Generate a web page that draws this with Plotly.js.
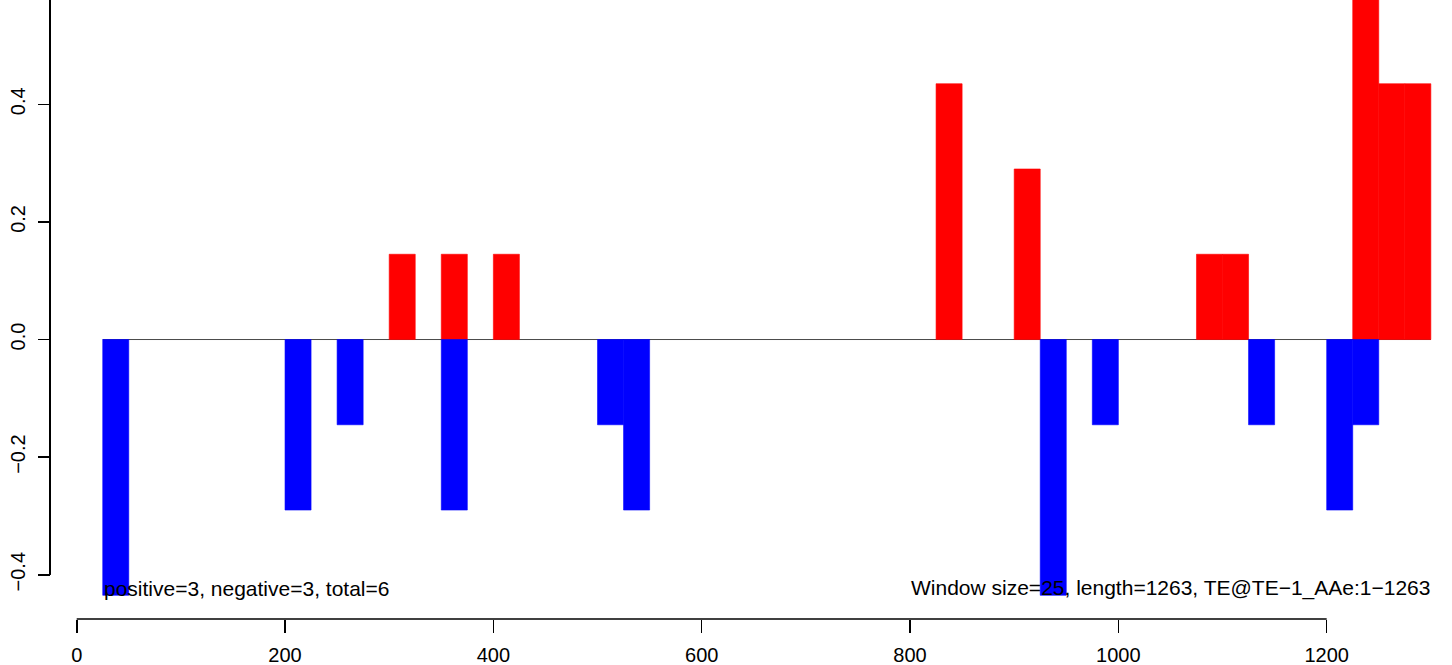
<!DOCTYPE html>
<html>
<head>
<meta charset="utf-8">
<script src="https://cdn.plot.ly/plotly-3.0.1.min.js"></script>
<style>
  html, body { margin: 0; padding: 0; background: #ffffff; }
  #chart { width: 1452px; height: 665px; }
</style>
</head>
<body>
<div id="chart"></div>
<script>
// Window start positions (bp) and scores for each 25-bp window
const windowSize = 25;
const positiveStarts = [300, 350, 400, 825, 900, 1075, 1100, 1225, 1250, 1275];
const positiveValues = [0.145, 0.145, 0.145, 0.435, 0.29, 0.145, 0.145, 0.58, 0.435, 0.435];
const negativeStarts = [25, 200, 250, 350, 500, 525, 925, 975, 1125, 1200, 1225];
const negativeValues = [-0.435, -0.29, -0.145, -0.29, -0.145, -0.29, -0.435, -0.145, -0.145, -0.29, -0.145];

// Axis ticks and visible ranges
const xTicks = [0, 200, 400, 600, 800, 1000, 1200];
const yTicks = [-0.4, -0.2, 0.0, 0.2, 0.4, 0.6];
const xRange = [-35.23, 1320.3];
const yRange = [-0.4753, 0.5774];
const yAxisX = -25.63;   // x (bp) where the R-style y axis sits

// Zero-line extent and text labels
const zeroLineFrom = 25;
const zeroLineTo = 1300;
const leftLabel = "positive=3, negative=3, total=6";
const leftLabelX = 25;
const rightLabel = "Window size=25, length=1263, TE@TE\u22121_AAe:1\u22121263";
const rightLabelX = 1300;
const labelY = -0.423;

const font = "'Liberation Sans', Arial, Helvetica, sans-serif";

const yAxisPosition = (yAxisX - xRange[0]) / (xRange[1] - xRange[0]);

const traces = [
  {
    type: 'bar',
    x: positiveStarts,
    y: positiveValues,
    width: windowSize,
    offset: 0,
    marker: { color: '#ff0000', line: { width: 0.6, color: '#ff0000' } },
    hoverinfo: 'skip'
  },
  {
    type: 'bar',
    x: negativeStarts,
    y: negativeValues,
    width: windowSize,
    offset: 0,
    marker: { color: '#0000ff', line: { width: 0.6, color: '#0000ff' } },
    hoverinfo: 'skip'
  },
  {
    // R-style y-axis line running from the lowest tick up past the top of the plot
    type: 'scatter',
    mode: 'lines',
    x: [yAxisX, yAxisX],
    y: [yTicks[0], yTicks[yTicks.length - 1]],
    line: { color: '#000000', width: 2 },
    hoverinfo: 'skip'
  }
];

const layout = {
  width: 1452,
  height: 665,
  margin: { l: 40, r: 0, t: 0, b: 46, pad: 0 },
  paper_bgcolor: '#ffffff',
  plot_bgcolor: '#ffffff',
  showlegend: false,
  hovermode: false,
  barmode: 'overlay',
  font: { family: font, color: '#000000', size: 20 },
  xaxis: {
    range: xRange,
    showgrid: false,
    zeroline: false,
    showline: false,
    ticks: 'outside',
    ticklen: 13,
    tickwidth: 1.6,
    tickcolor: '#000000',
    tickvals: xTicks,
    ticktext: xTicks.map(String),
    ticklabelstandoff: 5,
    tickfont: { family: font, size: 20, color: '#000000' },
    automargin: false,
    fixedrange: true
  },
  yaxis: {
    range: yRange,
    anchor: 'free',
    position: yAxisPosition,
    showgrid: false,
    zeroline: false,
    showline: false,
    ticks: 'outside',
    ticklen: 12,
    tickwidth: 1.6,
    tickcolor: '#000000',
    tickvals: yTicks,
    tickformat: '.1f',
    tickangle: -90,
    ticklabelstandoff: 5,
    tickfont: { family: font, size: 20, color: '#000000' },
    automargin: false,
    fixedrange: true
  },
  shapes: [
    { type: 'line', layer: 'below', xref: 'x', yref: 'y', x0: zeroLineFrom, x1: zeroLineTo, y0: 0, y1: 0,
      line: { color: '#4a4a4a', width: 1 } },
    { type: 'line', xref: 'x', yref: 'paper', x0: xTicks[0], x1: xTicks[xTicks.length - 1], y0: 0, y1: 0,
      line: { color: '#000000', width: 1.6 } },
    { type: 'line', xref: 'x', yref: 'y', x0: yAxisX, x1: yAxisX, y0: yTicks[0], y1: yTicks[yTicks.length - 1],
      line: { color: '#000000', width: 2 } }
  ],
  annotations: [
    { xref: 'x', yref: 'y', x: leftLabelX, y: labelY, text: leftLabel, showarrow: false,
      xanchor: 'left', yanchor: 'middle', borderpad: 0,
      font: { family: font, size: 21, color: '#000000' } },
    { xref: 'x', yref: 'y', x: rightLabelX, y: labelY, text: rightLabel, showarrow: false,
      xanchor: 'right', yanchor: 'middle', borderpad: 0,
      font: { family: font, size: 21, color: '#000000' } }
  ]
};

Plotly.newPlot('chart', traces, layout, { displayModeBar: false, staticPlot: true });
</script>
</body>
</html>
